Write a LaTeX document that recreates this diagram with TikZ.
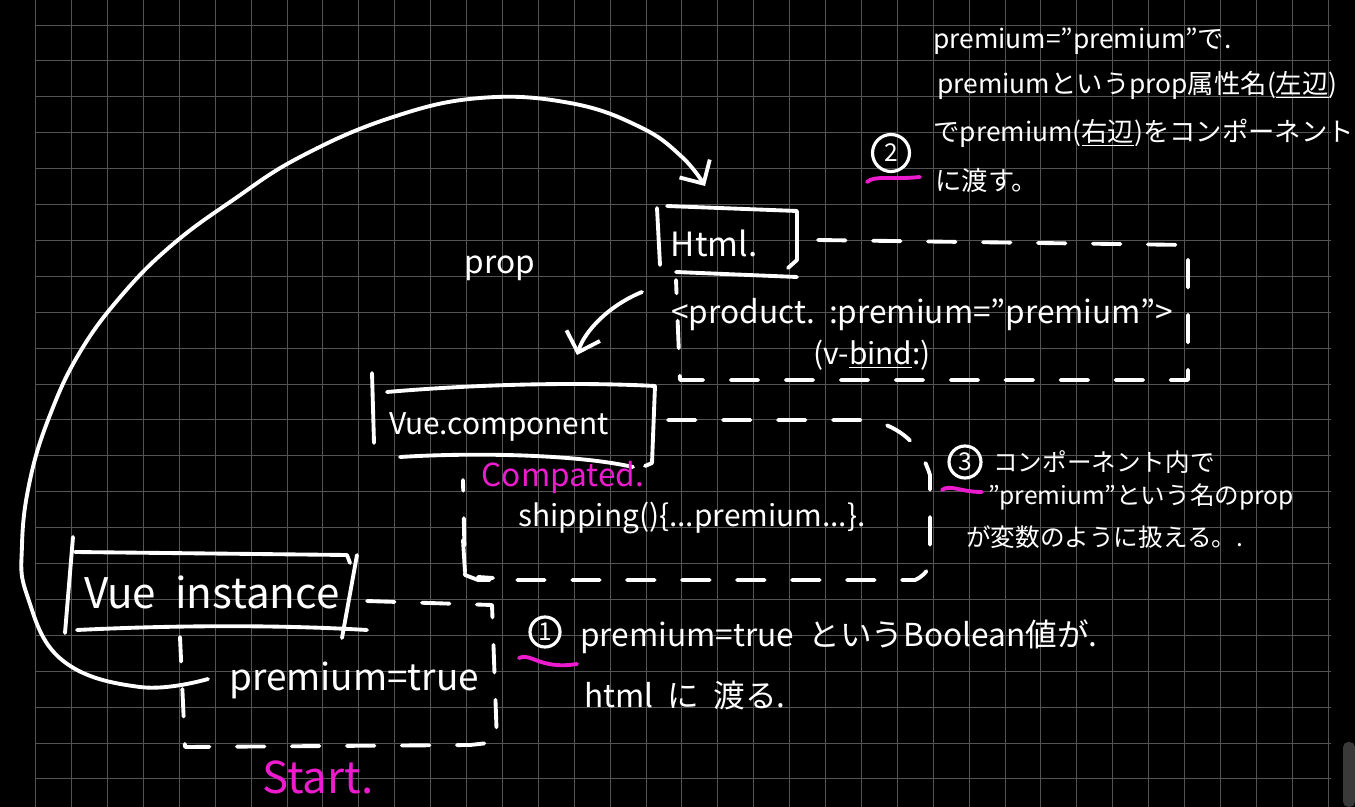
\documentclass[tikz,border=0pt]{standalone}
\usepackage{fontspec}
\setmainfont{Noto Sans CJK JP}
\usetikzlibrary{arrows.meta}
\definecolor{penpink}{RGB}{236,28,206}
\definecolor{gridgray}{RGB}{84,84,84}

\begin{document}
\begin{tikzpicture}[x=0.02cm,y=-0.02cm,
  gridline/.style={gridgray,line width=0.55pt},
  pen/.style={white,line width=2.2pt,line cap=round,line join=round},
  dashpen/.style={pen,dash pattern=on 0.55cm off 0.55cm},
  arrowpen/.style={pen,-{Straight Barb[length=10pt,width=20pt]}},
  hand/.style={text=white,inner sep=0pt},
  numring/.style={draw=white,line width=1.8pt,circle,inner sep=0pt,text=white,
    font=\fontsize{14}{16}\selectfont},
  squiggle/.style={penpink,line width=2.2pt,line cap=round}]
  \useasboundingbox (0,0) rectangle (1355,807);
  \fill[black] (0,0) rectangle (1355,807);
  \foreach \i in {0,...,36}
    \draw[gridline] ({35.7+35.9*\i},0) -- ++(0,807);
  \foreach \j in {0,...,21}
    \draw[gridline] (35.7,{25+35.9*\j}) -- (1331,{25+35.9*\j});

  % Vue instance
  \node[hand,font=\fontsize{24}{28}\selectfont] (inst) at (212,592) {Vue\ \ instance};
  \draw[pen] (73,537) -- (65,633);
  \draw[pen] (75,552) -- (347,555) -- (350,563);
  \draw[pen] (357,555) -- (342,638);
  \draw[pen] (77,630) .. controls (200,624) and (300,626) .. (367,630);
  \draw[dashpen] (367,601) -- (492,605) -- (497,742) -- (470,745) -- (185,747) -- (180,637);
  \draw[pen] (463,540) -- (465,572);
  \draw[pen] (478,577) -- (493,578);
  \node[hand,font=\fontsize{21}{24}\selectfont] (flag) at (354,680) {premium=true};
  \node[hand,text=penpink,font=\fontsize{25}{28}\selectfont] (start) at (318,777) {Start.};

  % Vue.component
  \node[hand,font=\fontsize{17}{20}\selectfont] (comp) at (499,427) {Vue.component};
  \draw[pen] (372,373) -- (374,443);
  \draw[pen] (387,392) .. controls (480,384) and (580,382) .. (655,386);
  \draw[pen] (655,386) -- (652,463) -- (645,466);
  \draw[pen] (400,457) .. controls (480,452) and (580,455) .. (633,467);
  \draw[dashpen] (668,420) -- (870,420) to[bend left=30] (930,475) -- (930,565)
    to[bend left=20] (915,580) -- (478,580) -- (465,575) -- (463,480);
  \node[hand,text=penpink,font=\fontsize{18}{20}\selectfont] (cmpt) at (563,478) {Compated.};
  \node[hand,font=\fontsize{17}{20}\selectfont] (ship) at (692,518) {shipping()\{...premium...\}.};

  % Html
  \node[hand,font=\fontsize{19}{22}\selectfont] (html) at (714,243) {Html.};
  \draw[pen] (657,208) -- (660,265);
  \draw[pen] (667,206) -- (797,211) -- (797,260) -- (788,268);
  \draw[pen] (676,272) -- (797,277);
  \draw[dashpen] (818,240) -- (1188,245) -- (1188,380) -- (680,380) -- (676,280);
  \node[hand,font=\fontsize{18}{20}\selectfont] (tag) at (922,315) {<product.\ \ :premium="premium">};
  \node[hand,font=\fontsize{17}{20}\selectfont] (bind) at (872,355) {(v-\underline{bind}:)};
  \node[hand,font=\fontsize{18}{20}\selectfont] (prop) at (500,268) {prop};

  % arrows
  \coordinate (arcfrom) at (208,679);
  \coordinate (arcto) at (705,186);
  \draw[arrowpen] plot[smooth,tension=0.7] coordinates {(arcfrom) (140,687) (62,660)
    (27,595) (22,545) (30,480) (50,415) (80,352) (122,295) (172,245) (233,200)
    (300,157) (390,118) (480,98) (570,103) (640,127) (682,157) (arcto)};
  \coordinate (propfrom) at (642,292);
  \coordinate (propto) at (577,355);
  \draw[arrowpen] (propfrom) .. controls (610,305) and (585,330) .. (propto);

  % notes
  \node[numring,minimum size=0.6cm] (one) at (545,632) {1};
  \draw[squiggle] (519,658) .. controls (530,652) and (540,670) .. (577,664);
  \node[hand,anchor=west,font=\fontsize{18}{20}\selectfont] (n1a) at (580,637) {premium=true\ \ というBoolean値が.};
  \node[hand,anchor=west,font=\fontsize{18}{20}\selectfont] (n1b) at (584,695) {html\ \ に\ \ 渡る.};

  \node[numring,minimum size=0.74cm] (two) at (891,153) {2};
  \draw[squiggle] (867,182) .. controls (875,175) and (890,180) .. (920,177);
  \node[hand,anchor=west,font=\fontsize{15}{18}\selectfont] (n2a) at (933,41) {premium="premium"で.};
  \node[hand,anchor=west,font=\fontsize{15}{18}\selectfont] (n2b) at (937,85) {premiumというprop属性名(\underline{左辺})};
  \node[hand,anchor=west,font=\fontsize{15}{18}\selectfont] (n2c) at (933,133) {でpremium(\underline{右辺})をコンポーネント};
  \node[hand,anchor=west,font=\fontsize{15}{18}\selectfont] (n2d) at (935,180) {に渡す。};

  \node[numring,minimum size=0.64cm] (three) at (965,462) {3};
  \draw[squiggle] (942,490) .. controls (950,484) and (960,492) .. (982,492);
  \node[hand,anchor=west,font=\fontsize{14}{16}\selectfont] (n3a) at (993,462) {コンポーネント内で};
  \node[hand,anchor=west,font=\fontsize{14}{16}\selectfont] (n3b) at (988,497) {"premium"という名のprop};
  \node[hand,anchor=west,font=\fontsize{14}{16}\selectfont] (n3c) at (966,537) {が変数のように扱える。.};

  % scroll widget
  \fill[gray!45!black,rounded corners=3pt] (1343,742) rectangle (1355,807);
\end{tikzpicture}
\end{document}
